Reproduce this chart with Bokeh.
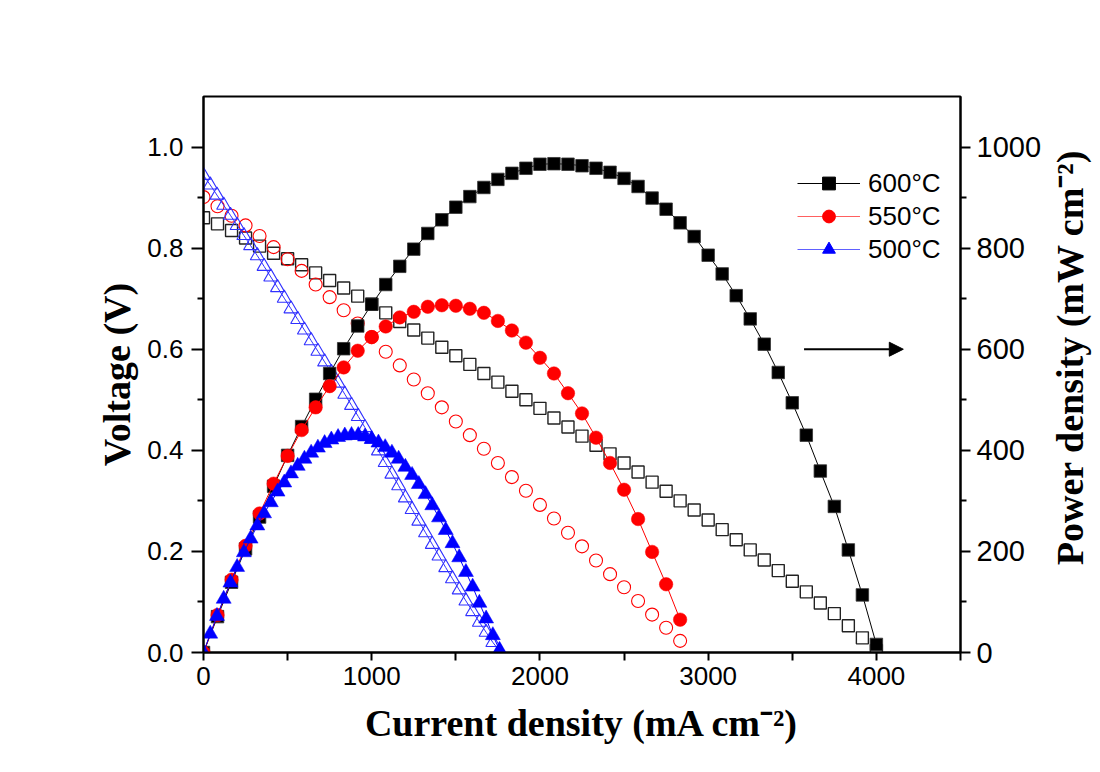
import math
from bokeh.plotting import figure
from bokeh.layouts import row
from bokeh.models import (Range1d, LinearAxis, FixedTicker, Arrow, NormalHead, Label,
                          Legend, LegendItem, CustomJSTickFormatter)
from bokeh.embed import file_html
from bokeh.resources import INLINE

# ---------------- data ----------------
current_600 = [0, 83.3, 166.7, 250, 333.3, 416.7, 500, 583.3, 666.7, 750, 833.3, 916.7,
               1000, 1083.3, 1166.7, 1250, 1333.3, 1416.7, 1500, 1583.3, 1666.7, 1750,
               1833.3, 1916.7, 2000, 2083.3, 2166.7, 2250, 2333.3, 2416.7, 2500, 2583.3,
               2666.7, 2750, 2833.3, 2916.7, 3000, 3083.3, 3166.7, 3250, 3333.3, 3416.7,
               3500, 3583.3, 3666.7, 3750, 3833.3, 3916.7, 4000]
voltage_600 = [0.860, 0.848, 0.835, 0.820, 0.804, 0.790, 0.779, 0.767, 0.751, 0.736, 0.721,
               0.705, 0.689, 0.672, 0.655, 0.638, 0.622, 0.604, 0.587, 0.570, 0.552, 0.535,
               0.517, 0.500, 0.483, 0.464, 0.446, 0.428, 0.410, 0.393, 0.375, 0.357, 0.337,
               0.319, 0.300, 0.282, 0.262, 0.243, 0.223, 0.203, 0.183, 0.162, 0.141, 0.120,
               0.098, 0.077, 0.053, 0.029, 0.004]
power_600 = [0, 71, 139, 205, 268, 329, 390, 447, 501, 552, 601, 646, 689, 728, 764, 798,
             829, 856, 881, 902, 920, 936, 948, 958, 966, 967, 966, 963, 958, 950, 938, 922,
             899, 877, 850, 823, 786, 749, 706, 660, 610, 554, 494, 430, 359, 289, 203, 114, 16]

current_550 = [0, 83.3, 166.7, 250, 333.3, 416.7, 500, 583.3, 666.7, 750, 833.3, 916.7,
               1000, 1083.3, 1166.7, 1250, 1333.3, 1416.7, 1500, 1583.3, 1666.7, 1750,
               1833.3, 1916.7, 2000, 2083.3, 2166.7, 2250, 2333.3, 2416.7, 2500, 2583.3,
               2666.7, 2750, 2833.3]
voltage_550 = [0.901, 0.883, 0.864, 0.845, 0.824, 0.802, 0.778, 0.755, 0.728, 0.703, 0.677,
               0.651, 0.624, 0.595, 0.568, 0.540, 0.513, 0.485, 0.457, 0.430, 0.403, 0.375,
               0.347, 0.320, 0.292, 0.265, 0.237, 0.210, 0.182, 0.155, 0.129, 0.102, 0.075,
               0.049, 0.023]
power_550 = [0, 74, 144, 211, 275, 334, 389, 440, 485, 527, 564, 597, 624, 645, 663, 674,
             684, 687, 686, 680, 672, 656, 637, 613, 583, 552, 513, 473, 425, 375, 322, 264,
             199, 135, 65]

current_500 = [0, 40, 80, 120, 160, 200, 240, 280, 320, 360, 400, 440, 480, 520, 560, 600,
               640, 680, 720, 760, 800, 840, 880, 920, 960, 1000, 1040, 1080, 1120, 1160,
               1200, 1240, 1280, 1320, 1360, 1400, 1440, 1480, 1520, 1560, 1600, 1640, 1680,
               1720, 1760]
voltage_500 = [0.944, 0.925, 0.905, 0.885, 0.865, 0.845, 0.825, 0.805, 0.785, 0.764, 0.743,
               0.722, 0.701, 0.680, 0.659, 0.638, 0.617, 0.596, 0.575, 0.554, 0.533, 0.511,
               0.489, 0.467, 0.445, 0.422, 0.399, 0.376, 0.353, 0.330, 0.306, 0.283, 0.260,
               0.237, 0.214, 0.191, 0.168, 0.146, 0.124, 0.102, 0.081, 0.060, 0.040, 0.020,
               0.003]
power_500 = [0, 37, 72, 106, 138, 169, 198, 225, 251, 275, 297, 318, 336, 354, 369, 383, 395,
             405, 414, 421, 426, 429, 430, 430, 427, 422, 415, 406, 395, 383, 367, 351, 333,
             313, 291, 267, 242, 216, 188, 159, 130, 98, 67, 34, 5]

series_labels = ["600°C", "550°C", "500°C"]
x_title = "Current density (mA cm⁻²)"
v_title = "Voltage (V)"
p_title = "Power density (mW cm⁻²)"
x_ticks = [0, 1000, 2000, 3000, 4000]
x_minor = [500, 1500, 2500, 3500, 4500]
v_ticks = [0.0, 0.2, 0.4, 0.6, 0.8, 1.0]
v_minor = [0.1, 0.3, 0.5, 0.7, 0.9]
p_ticks = [0, 200, 400, 600, 800, 1000]
p_minor = [100, 300, 500, 700, 900]

TICK_FONT = "Liberation Sans"
TITLE_FONT = "Liberation Serif"

# ---------------- main figure ----------------
p = figure(width=1045, height=772, output_backend="svg", toolbar_location=None,
           x_range=Range1d(0, 4500), y_range=Range1d(0, 1.1),
           min_border_left=203, min_border_right=85, min_border_top=96,
           min_border_bottom=120, background_fill_color="white",
           border_fill_color="white")
p.extra_y_ranges = {"power": Range1d(0, 1100)}
p.grid.visible = False
p.outline_line_color = "black"
p.outline_line_width = 2

xa = p.xaxis[0]
xa.ticker = FixedTicker(ticks=x_ticks, minor_ticks=x_minor)
ya = p.yaxis[0]
ya.ticker = FixedTicker(ticks=v_ticks, minor_ticks=v_minor)
ya.formatter = CustomJSTickFormatter(code="return tick.toFixed(1);")

ra = LinearAxis(y_range_name="power", ticker=FixedTicker(ticks=p_ticks, minor_ticks=p_minor))
p.add_layout(ra, "right")

for ax, mj, mn, fs, st in ((xa, 8, 8, "26px", 6), (ya, 12, 6, "26px", 8), (ra, 10, 6, "29px", 6)):
    ax.axis_line_width = 2
    ax.axis_line_color = "black"
    ax.major_tick_line_width = 2
    ax.minor_tick_line_width = 2
    ax.major_tick_in = 0
    ax.minor_tick_in = 0
    ax.major_tick_out = mj
    ax.minor_tick_out = mn
    ax.major_label_text_font = TICK_FONT
    ax.major_label_text_font_size = fs
    ax.major_label_text_color = "black"
    ax.major_label_standoff = st
    ax.axis_label_text_font = TITLE_FONT
    ax.axis_label_text_font_style = "bold"
    ax.axis_label_text_font_size = "38px"
    ax.axis_label_text_color = "black"

xa.axis_label = x_title
xa.axis_label_standoff = 14
ya.axis_label = v_title
ya.axis_label_standoff = 6

# ---------------- voltage (open markers) ----------------
p.scatter(current_600, voltage_600, marker="square", size=12, fill_color=None,
          line_color="#222222", line_width=1.4)
p.scatter(current_550, voltage_550, marker="circle", size=13, fill_color=None,
          line_color="#ff0000", line_width=1.1)
p.line(current_500, voltage_500, line_color="#3030ff", line_width=1)
p.scatter(current_500, voltage_500, marker="triangle", size=14, fill_color=None,
          line_color="#3030ff", line_width=1.1)

# ---------------- power (filled markers) ----------------
p.line(current_600, power_600, y_range_name="power", line_color="black", line_width=1)
p.scatter(current_600, power_600, y_range_name="power", marker="square", size=12.5,
          fill_color="black", line_color="#333333", line_width=0.8)
p.line(current_550, power_550, y_range_name="power", line_color="#ff0000", line_width=1)
p.scatter(current_550, power_550, y_range_name="power", marker="circle", size=13.5,
          fill_color="#ff0000", line_color="#ff0000", line_width=0.5)
p.line(current_500, power_500, y_range_name="power", line_color="#0000ff", line_width=1)
p.scatter(current_500, power_500, y_range_name="power", marker="triangle", size=15,
          fill_color="#0000ff", line_color="#0000ff", line_width=0.5)

# ---------------- legend (legend-only renderers, one point outside the view) ----------------
leg_items = []
for lab, mk, col, lc in ((series_labels[0], "square", "black", "black"),
                         (series_labels[1], "circle", "#ff0000", "#ff6060"),
                         (series_labels[2], "triangle", "#0000ff", "#6060ff")):
    lr = p.line([-9000, -8000], [-5, -5], line_color=lc, line_width=1)
    sr = p.scatter([-9000], [-5], marker=mk, fill_color=col, line_color=col, line_width=1)
    leg_items.append(LegendItem(label=lab, renderers=[lr, sr]))
legend = Legend(items=leg_items, location=(594, 387), glyph_width=63, glyph_height=32,
                label_height=32, spacing=1, padding=0, margin=0, label_standoff=8,
                border_line_color=None, background_fill_alpha=0,
                label_text_font=TICK_FONT, label_text_font_size="26px",
                label_text_color="black")
p.add_layout(legend)

# ---------------- arrow ----------------
p.add_layout(Arrow(end=NormalHead(size=14, fill_color="black", line_color="black"),
                   x_start=3570, y_start=0.6, x_end=4160, y_end=0.6,
                   line_color="black", line_width=2))

# ---------------- right-hand axis title (a narrow panel beside the plot) ----------------
pt = figure(width=55, height=772, output_backend="svg", toolbar_location=None,
            x_range=Range1d(0, 55), y_range=Range1d(0, 772),
            x_axis_type=None, y_axis_type=None, min_border=0,
            min_border_left=0, min_border_right=0, min_border_top=0, min_border_bottom=0,
            background_fill_color="white", border_fill_color="white")
pt.outline_line_color = None
pt.grid.visible = False
pt.add_layout(Label(x=24, y=772 - 362, text=p_title, angle=math.pi / 2,
                    text_font=TITLE_FONT, text_font_style="bold", text_font_size="38px",
                    text_color="black", text_align="center", text_baseline="alphabetic"))

layout = row(p, pt, spacing=0)
open("out.html", "w").write(file_html(layout, INLINE))
